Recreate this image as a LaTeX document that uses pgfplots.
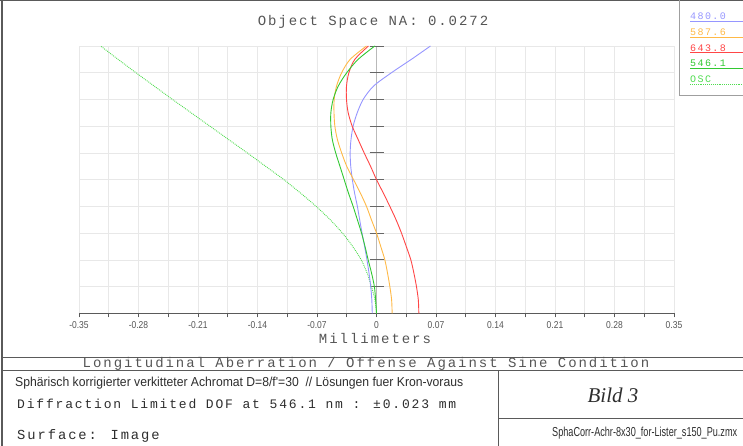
\documentclass[border=0pt]{standalone}
\usepackage{pgfplots}
\pgfplotsset{compat=1.18}
\usepackage{fontspec}
\usepackage{graphicx}
\setmainfont{Liberation Sans}
\newfontfamily\mono[LetterSpace=14]{Liberation Mono}
\newfontfamily\narrow{Liberation Sans}
\newfontfamily\narrowtick[FakeStretch=0.85]{Liberation Sans}
\newfontfamily\bildfont{Liberation Serif}
\definecolor{cblue}{RGB}{150,150,255}
\definecolor{corange}{RGB}{255,185,70}
\definecolor{cred}{RGB}{255,70,70}
\definecolor{cgreen}{RGB}{50,200,50}
\definecolor{cosc}{RGB}{80,220,80}
\definecolor{txtgray}{RGB}{85,85,85}
\definecolor{txtdark}{RGB}{45,45,45}
\definecolor{framegray}{RGB}{90,90,90}
\definecolor{gridgray}{RGB}{232,232,232}
\begin{document}
\begin{tikzpicture}[x=1pt,y=1pt]
\useasboundingbox (0,0) rectangle (743,446);
\begin{axis}[
  at={(79pt,132.7pt)}, anchor=south west,
  scale only axis, width=595pt, height=267.3pt,
  xmin=-0.35, xmax=0.35, ymin=0, ymax=1,
  axis x line=bottom, x axis line style={-,draw=framegray,line width=0.8pt},
  axis y line=left, y axis line style={draw=none},
  ytick={0,0.1,0.2,0.3,0.4,0.5,0.6,0.7,0.8,0.9,1.0},
  yticklabels={}, ytick style={draw=none},
  xtick={-0.35,-0.28,-0.21,-0.14,-0.07,0,0.07,0.14,0.21,0.28,0.35},
  xticklabels={-0.35,-0.28,-0.21,-0.14,-0.07,0,0.07,0.14,0.21,0.28,0.35},
  minor xtick={-0.315,-0.245,-0.175,-0.105,-0.035,0.035,0.105,0.175,0.245,0.315},
  tick align=outside, major tick length=4pt, minor tick length=4pt,
  xtick style={draw=framegray,line width=0.7pt},
  xmajorgrids, xminorgrids, ymajorgrids,
  major grid style={draw=gridgray,line width=0.6pt},
  minor grid style={draw=gridgray,line width=0.6pt},
  xticklabel style={font=\narrowtick\fontsize{10}{10}\selectfont, text=txtgray, inner sep=0pt, yshift=-4pt},
]
\draw[gray!55, line width=1.6pt] (axis cs:0,0) -- (axis cs:0,1);
\draw[gray!80!black, line width=0.9pt] ([xshift=-7pt]axis cs:0,0.1) -- ([xshift=7pt]axis cs:0,0.1);
\draw[gray!80!black, line width=0.9pt] ([xshift=-7pt]axis cs:0,0.2) -- ([xshift=7pt]axis cs:0,0.2);
\draw[gray!80!black, line width=0.9pt] ([xshift=-7pt]axis cs:0,0.3) -- ([xshift=7pt]axis cs:0,0.3);
\draw[gray!80!black, line width=0.9pt] ([xshift=-7pt]axis cs:0,0.4) -- ([xshift=7pt]axis cs:0,0.4);
\draw[gray!80!black, line width=0.9pt] ([xshift=-7pt]axis cs:0,0.5) -- ([xshift=7pt]axis cs:0,0.5);
\draw[gray!80!black, line width=0.9pt] ([xshift=-7pt]axis cs:0,0.6) -- ([xshift=7pt]axis cs:0,0.6);
\draw[gray!80!black, line width=0.9pt] ([xshift=-7pt]axis cs:0,0.7) -- ([xshift=7pt]axis cs:0,0.7);
\draw[gray!80!black, line width=0.9pt] ([xshift=-7pt]axis cs:0,0.8) -- ([xshift=7pt]axis cs:0,0.8);
\draw[gray!80!black, line width=0.9pt] ([xshift=-7pt]axis cs:0,0.9) -- ([xshift=7pt]axis cs:0,0.9);
\draw[gray!80!black, line width=0.9pt] ([xshift=-7pt]axis cs:0,1.0) -- ([xshift=7pt]axis cs:0,1.0);
% OSC
\addplot[cosc, densely dotted, line width=0.9pt, smooth] coordinates {
(0,0) (-0.0018,0.05) (-0.006,0.1) (-0.011,0.15) (-0.018,0.2) (-0.028,0.25)
(-0.040,0.3) (-0.0545,0.35) (-0.071,0.4) (-0.0895,0.45) (-0.109,0.5)
(-0.1305,0.55) (-0.152,0.6) (-0.174,0.65) (-0.196,0.7) (-0.218,0.75)
(-0.240,0.8) (-0.2615,0.85) (-0.283,0.9) (-0.304,0.95) (-0.3245,1.0)};
% 480.0
\addplot[cblue, line width=0.9pt, smooth] coordinates {
(-0.0050,0) (-0.0055,0.05) (-0.0068,0.1) (-0.0088,0.15) (-0.0112,0.2) (-0.0140,0.25)
(-0.0170,0.3) (-0.0198,0.35) (-0.0225,0.4) (-0.0258,0.45) (-0.0284,0.5)
(-0.0303,0.55) (-0.0310,0.6) (-0.0300,0.65) (-0.0275,0.7) (-0.0227,0.75)
(-0.0157,0.8) (-0.0035,0.85) (0.0176,0.9) (0.041,0.95) (0.0635,1.0)};
% 587.6
\addplot[corange, line width=0.9pt, smooth] coordinates {
(0.0184,0) (0.0178,0.05) (0.0157,0.1) (0.013,0.15) (0.0098,0.2) (0.005,0.25)
(0.0,0.3) (-0.006,0.35) (-0.0118,0.4) (-0.019,0.45) (-0.027,0.5)
(-0.035,0.55) (-0.041,0.6) (-0.046,0.65) (-0.049,0.7) (-0.050,0.75)
(-0.0498,0.8) (-0.047,0.85) (-0.041,0.9) (-0.031,0.95) (-0.0118,1.0)};
% 643.8
\addplot[cred, line width=0.9pt, smooth] coordinates {
(0.0498,0) (0.0492,0.05) (0.047,0.1) (0.044,0.15) (0.0404,0.2) (0.035,0.25)
(0.0294,0.3) (0.023,0.35) (0.0157,0.4) (0.008,0.45) (0.0,0.5)
(-0.007,0.55) (-0.0145,0.6) (-0.0216,0.65) (-0.0286,0.7) (-0.0333,0.75)
(-0.0353,0.8) (-0.0353,0.85) (-0.0325,0.9) (-0.0255,0.95) (-0.0095,1.0)};
% 546.1
\addplot[cgreen, line width=0.9pt, smooth] coordinates {
(0.0,0) (-0.0010,0.05) (-0.0025,0.1) (-0.0058,0.15) (-0.0098,0.2) (-0.0135,0.25)
(-0.0176,0.3) (-0.0225,0.35) (-0.0275,0.4) (-0.033,0.45) (-0.038,0.5)
(-0.043,0.55) (-0.048,0.6) (-0.052,0.65) (-0.0537,0.7) (-0.0537,0.75)
(-0.051,0.8) (-0.045,0.85) (-0.035,0.9) (-0.0216,0.95) (-0.002,1.0)};
\end{axis}
% frame
\draw[framegray, line width=1.2pt] (0,445.4) -- (743,445.4);
\draw[framegray, line width=1.2pt] (2,0) -- (2,446);
\draw[framegray, line width=0.9pt] (2,88.7) -- (743,88.7);
\draw[framegray, line width=0.9pt] (2,75.3) -- (743,75.3);
\draw[framegray, line width=0.9pt] (498,75.3) -- (498,0);
\draw[framegray, line width=0.9pt] (498,28) -- (743,28);
% legend box
\draw[gray!75, line width=0.9pt] (679.5,446) -- (679.5,351) -- (743,351);
\node[anchor=west, inner sep=0pt, text=cblue] at (690,429.3) {\mono\fontsize{10}{10}\selectfont 480.0};
\draw[cblue, line width=0.9pt] (690,424.3) -- (743,424.3);
\node[anchor=west, inner sep=0pt, text=corange] at (690,413.3) {\mono\fontsize{10}{10}\selectfont 587.6};
\draw[corange, line width=0.9pt] (690,408.3) -- (743,408.3);
\node[anchor=west, inner sep=0pt, text=cred] at (690,397.7) {\mono\fontsize{10}{10}\selectfont 643.8};
\draw[cred, line width=0.9pt] (690,393.3) -- (743,393.3);
\node[anchor=west, inner sep=0pt, text=cgreen] at (690,382.7) {\mono\fontsize{10}{10}\selectfont 546.1};
\draw[cgreen, line width=0.9pt] (690,377.7) -- (743,377.7);
\node[anchor=west, inner sep=0pt, text=cosc] at (690,366.7) {\mono\fontsize{10}{10}\selectfont OSC};
\draw[cosc, densely dotted, line width=0.9pt] (690,362) -- (743,362);
% texts
\node[inner sep=0pt, text=txtgray] at (373,424) {\mono\fontsize{14}{16}\selectfont Object Space NA: 0.0272};
\node[inner sep=0pt, text=txtgray] at (375,108) {\mono\fontsize{14}{16}\selectfont Millimeters};
\node[inner sep=0pt, text=txtgray] at (366,82) {\mono\fontsize{14}{16}\selectfont Longitudinal Aberration / Offense Against Sine Condition};
\node[anchor=west, inner sep=0pt, text=txtdark] at (15,63) {\resizebox{448pt}{\height}{\narrow\fontsize{13}{15}\selectfont Sphärisch korrigierter verkitteter Achromat D=8/f'=30\ \ // Lösungen fuer Kron-voraus}};
\node[anchor=west, inner sep=0pt, text=txtdark] at (17,42) {\mono\fontsize{13}{15}\selectfont Diffraction Limited DOF at 546.1 nm : ±0.023 mm};
\node[anchor=west, inner sep=0pt, text=txtdark] at (17,10) {\mono\fontsize{13.8}{15}\selectfont Surface: Image};
\node[inner sep=0pt, text=txtdark] at (613,51) {\bildfont\itshape\fontsize{21}{23}\selectfont Bild 3};
\node[anchor=west, inner sep=0pt, text=txtdark] at (552,13) {\resizebox{185pt}{\height}{\narrow\fontsize{13}{15}\selectfont SphaCorr-Achr-8x30\_for-Lister\_s150\_Pu.zmx}};
\end{tikzpicture}
\end{document}
